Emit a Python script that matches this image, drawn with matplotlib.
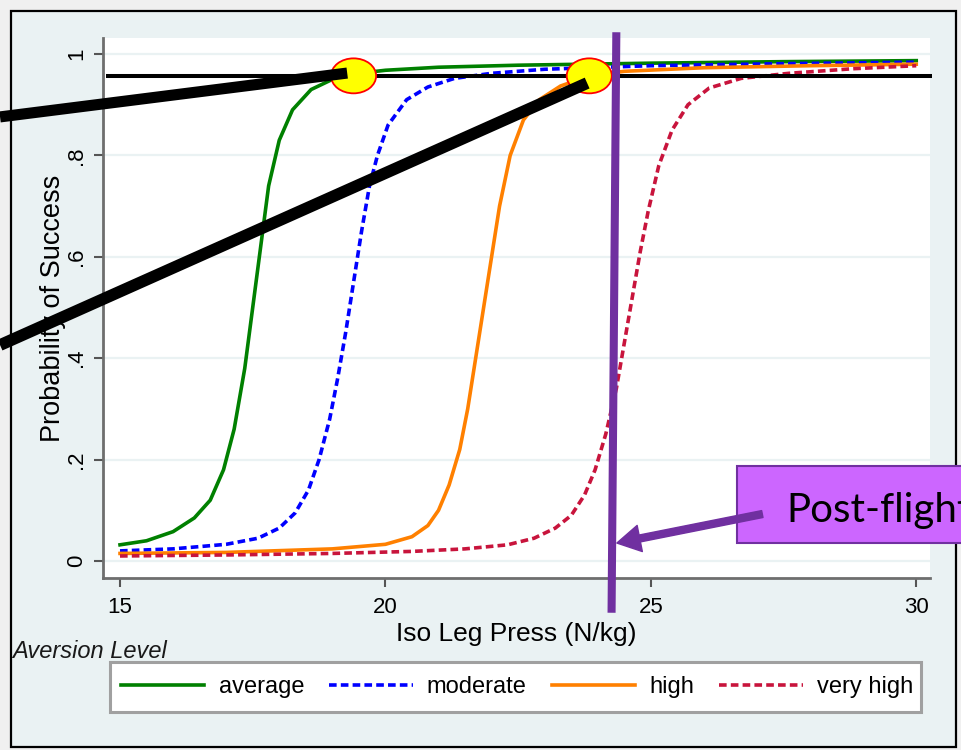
import matplotlib
matplotlib.use("Agg")
import matplotlib.pyplot as plt
from matplotlib.patches import Rectangle, Ellipse, FancyArrowPatch

plt.rcParams['font.family'] = ['Liberation Sans', 'DejaVu Sans']
plt.rcParams['lines.scale_dashes'] = False

# curvas (presion de pierna vs probabilidad de exito)
avg_x = [15.0, 15.5, 16.0, 16.4, 16.7, 16.95, 17.15, 17.35, 17.5, 17.65, 17.8,
         18.0, 18.25, 18.6, 19.0, 19.5, 20.0, 21.0, 22.5, 25.0, 27.5, 30.0]
avg_y = [0.032, 0.04, 0.058, 0.085, 0.12, 0.18, 0.26, 0.38, 0.50, 0.62, 0.74,
         0.83, 0.89, 0.93, 0.95, 0.962, 0.968, 0.974, 0.978, 0.982, 0.985, 0.987]

mod_x = [15.0, 16.0, 17.0, 17.6, 18.0, 18.3, 18.55, 18.75, 18.95, 19.1, 19.25,
         19.4, 19.55, 19.7, 19.85, 20.05, 20.4, 20.8, 21.3, 22.0, 23.0, 25.0, 27.5, 30.0]
mod_y = [0.02, 0.024, 0.033, 0.045, 0.065, 0.095, 0.14, 0.20, 0.28, 0.36, 0.45,
         0.55, 0.65, 0.74, 0.80, 0.86, 0.91, 0.935, 0.952, 0.962, 0.97, 0.977, 0.981, 0.984]

high_x = [15.0, 17.0, 19.0, 20.0, 20.5, 20.8, 21.0, 21.2, 21.4, 21.55, 21.7, 21.85,
          22.0, 22.15, 22.35, 22.6, 22.9, 23.3, 23.85, 24.5, 26.0, 28.0, 30.0]
high_y = [0.015, 0.017, 0.024, 0.033, 0.048, 0.07, 0.10, 0.15, 0.22, 0.30, 0.40, 0.50,
          0.60, 0.70, 0.80, 0.87, 0.91, 0.937, 0.957, 0.966, 0.973, 0.977, 0.98]

vhigh_x = [15.0, 17.0, 19.0, 20.5, 21.5, 22.3, 22.8, 23.2, 23.5, 23.75, 23.95, 24.15,
           24.35, 24.5, 24.65, 24.8, 24.95, 25.15, 25.4, 25.7, 26.1, 26.7, 27.6, 28.8, 30.0]
vhigh_y = [0.01, 0.012, 0.015, 0.019, 0.024, 0.032, 0.045, 0.065, 0.09, 0.13, 0.18, 0.25,
           0.34, 0.43, 0.52, 0.61, 0.69, 0.78, 0.85, 0.90, 0.933, 0.952, 0.962, 0.971, 0.977]

etiquetas = ['average', 'moderate', 'high', 'very high']
x_ticks = [15, 20, 25, 30]
y_ticks = [0, 0.2, 0.4, 0.6, 0.8, 1.0]
y_ticklabels = ['0', '.2', '.4', '.6', '.8', '1']

umbral = 0.957            # linea horizontal negra
puntos_x = [19.40, 23.84]  # elipses amarillas sobre el umbral
post_vuelo = [24.35, 24.26]  # linea morada (arriba, abajo)

fig = plt.figure(figsize=(9.61, 7.5), dpi=100, facecolor='#f0f0f0')
fig.add_artist(Rectangle((0.01145, 0.004), 0.98335, 0.98133, transform=fig.transFigure,
                         facecolor='#eaf2f3', edgecolor='black', lw=1.6, zorder=-1))
# caja de la leyenda (estilo Stata)
fig.add_artist(Rectangle((110 / 961, 1 - 712 / 750), 811 / 961, 50 / 750,
                         transform=fig.transFigure, facecolor='white',
                         edgecolor='#a0a0a0', lw=2.2, zorder=-0.5))

ax = fig.add_axes([0.1072, 0.2293, 0.8606, 0.72])
ax.set_facecolor('white')

ax.plot(avg_x, avg_y, color='#008000', lw=2.6, label=etiquetas[0])
ax.plot(mod_x, mod_y, color='#0000ff', lw=2.6, dashes=(5.5, 3.0), label=etiquetas[1])
ax.plot(high_x, high_y, color='#ff8000', lw=2.6, label=etiquetas[2])
ax.plot(vhigh_x, vhigh_y, color='#c8143c', lw=2.6, dashes=(5.5, 3.0), label=etiquetas[3])

ax.set_xlim(14.68, 30.26)
ax.set_ylim(-0.0335, 1.0316)
ax.set_xticks(x_ticks)
ax.set_yticks(y_ticks)
ax.set_yticklabels(y_ticklabels)
ax.yaxis.grid(True, color='#eaf2f3', lw=1.6)
ax.set_axisbelow(True)
for s in ['top', 'right']:
    ax.spines[s].set_visible(False)
for s in ['left', 'bottom']:
    ax.spines[s].set_color('#6e6e6e')
    ax.spines[s].set_linewidth(2)
ax.tick_params(direction='out', length=6.5, width=1.5, color='#555555', labelsize=16)
ax.tick_params(axis='y', labelrotation=90, pad=5)
ax.tick_params(axis='x', pad=7)
for lab in ax.get_yticklabels():
    lab.set_va('center')
ax.set_xlabel('Iso Leg Press (N/kg)', fontsize=19, labelpad=3)
ax.set_ylabel('Probability of Success', fontsize=19.5, labelpad=0)

# anotaciones
ax.hlines(umbral, 14.74, 30.3, color='black', lw=2.9, clip_on=False, zorder=4)
for px in puntos_x:
    ax.add_patch(Ellipse((px, umbral), 0.85, 0.069, facecolor='#ffff00',
                         edgecolor='#ff0000', lw=1.3, zorder=5))
ax.plot([12.74, 19.28], [0.876, 0.9625], color='black', lw=8, solid_capstyle='butt',
        clip_on=False, zorder=6)
ax.plot([12.74, 23.80], [0.426, 0.9428], color='black', lw=8.5, solid_capstyle='butt',
        clip_on=False, zorder=6)
ax.plot(post_vuelo, [1.043, -0.102], color='#7030a0', lw=5.8, solid_capstyle='butt',
        clip_on=False, zorder=7)
ax.add_patch(Rectangle((26.63, 0.0355), 10, 0.152, facecolor='#cc66ff',
                       edgecolor='#7030a0', lw=1.5, clip_on=False, zorder=8))
ax.text(27.55, 0.077, 'Post-flight', fontsize=29, family=['Lato', 'DejaVu Sans'],
        color='black', va='baseline', ha='left', zorder=9, clip_on=False)
ax.add_patch(FancyArrowPatch((27.1, 0.0927), (24.36, 0.0355),
                             arrowstyle='simple,head_length=1.4,head_width=1.6,tail_width=0.42',
                             mutation_scale=12, color='#7030a0', shrinkA=0, shrinkB=0,
                             clip_on=False, zorder=10))

leg = ax.legend(loc='center left', bbox_to_anchor=(0.1145, 1 - 687 / 750),
                bbox_transform=fig.transFigure, ncol=4, fontsize=17,
                handlelength=3.55, handletextpad=0.6, columnspacing=1.05,
                frameon=False, borderpad=0.45, borderaxespad=0)

fig.text(0.0125, 1 - 658 / 750, 'Aversion Level', style='italic', fontsize=17,
         va='baseline', color='#1a1a1a')

plt.savefig('out.png', dpi=100, facecolor=fig.get_facecolor())
plt.close()
